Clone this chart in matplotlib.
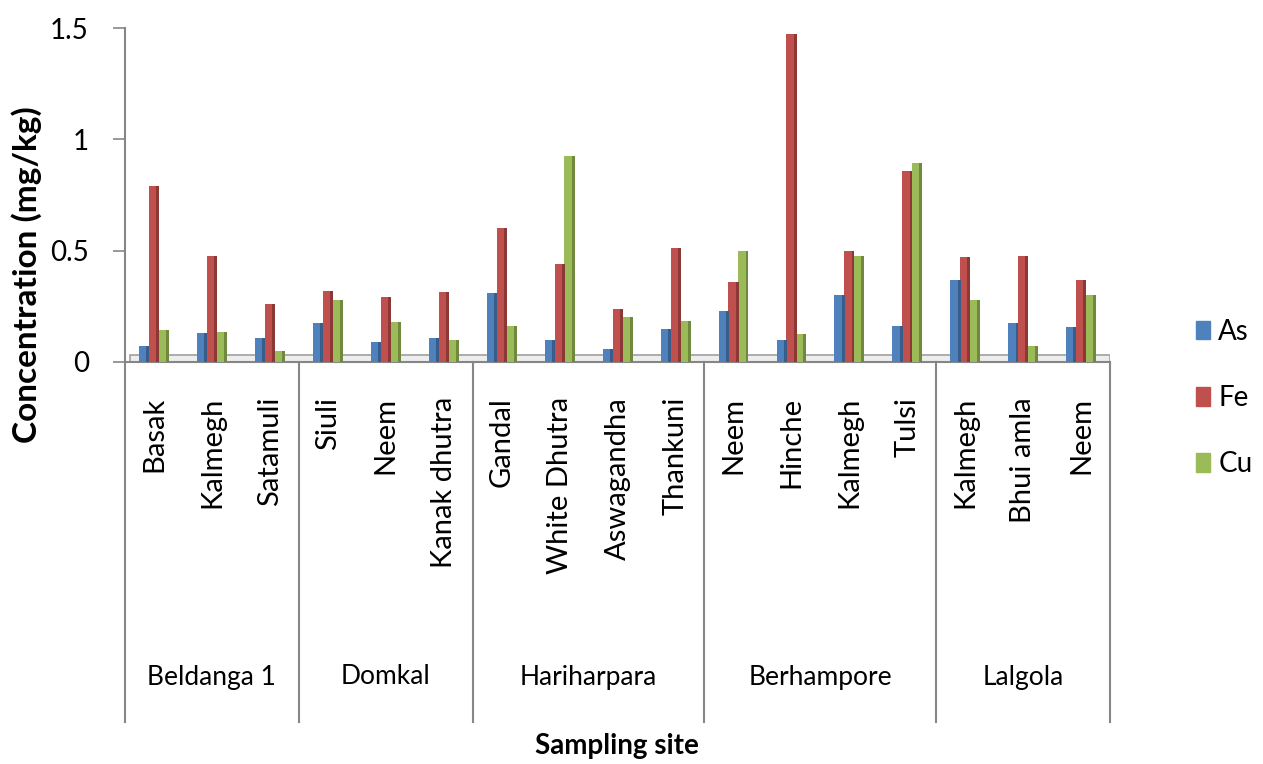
import matplotlib
matplotlib.use("Agg")
import matplotlib.pyplot as plt
import matplotlib.transforms as mtransforms
import numpy as np

plt.rcParams['font.family'] = ['Lato', 'DejaVu Sans']

plants = ["Basak", "Kalmegh", "Satamuli",
          "Siuli", "Neem", "Kanak dhutra",
          "Gandal", "White Dhutra", "Aswagandha", "Thankuni",
          "Neem", "Hinche", "Kalmegh", "Tulsi",
          "Kalmegh", "Bhui amla", "Neem"]
groups = ["Beldanga 1", "Domkal", "Hariharpara", "Berhampore", "Lalgola"]
group_sizes = [3, 3, 4, 4, 3]

As = [0.07, 0.13, 0.11, 0.175, 0.09, 0.11, 0.31, 0.10, 0.06, 0.15,
      0.23, 0.10, 0.30, 0.16, 0.37, 0.175, 0.155]
Fe = [0.79, 0.475, 0.26, 0.32, 0.29, 0.315, 0.60, 0.44, 0.24, 0.51,
      0.36, 1.475, 0.50, 0.86, 0.47, 0.475, 0.37]
Cu = [0.145, 0.135, 0.05, 0.28, 0.18, 0.10, 0.16, 0.925, 0.20, 0.185,
      0.50, 0.125, 0.475, 0.895, 0.28, 0.07, 0.30]

series = [("As", As, "#4F81BD", "#385D8A"),
          ("Fe", Fe, "#C0504D", "#8C3836"),
          ("Cu", Cu, "#9BBB59", "#71893F")]

W, H = 1263, 764
fig = plt.figure(figsize=(W / 100, H / 100), dpi=100)
ax = fig.add_axes([125 / W, 402 / H, 985 / W, 334 / H])

n = len(plants)
x = np.arange(n)
bw = 0.17
offsets = [-0.17, 0.0, 0.17]
for (name, vals, col, dark), off in zip(series, offsets):
    ax.bar(x + off, vals, width=bw, color=col, label=name, zorder=3,
           linewidth=0)
    # darker right side to mimic 3D columns
    ax.bar(x + off + bw / 2 - 0.02, vals, width=0.05, color=dark,
           zorder=4, linewidth=0)

ax.set_xlim(-0.5, n - 0.5)
ax.set_ylim(0, 1.5)
ax.set_yticks([0, 0.5, 1, 1.5])
ax.set_yticklabels(["0", "0.5", "1", "1.5"])
ax.tick_params(axis='y', direction='out', length=9, width=1.2,
               color='#868686', labelsize=20, pad=17)
ax.tick_params(axis='x', bottom=False, labelbottom=False)
for s in ['top', 'right']:
    ax.spines[s].set_visible(False)
for s in ['left', 'bottom']:
    ax.spines[s].set_color('#868686')
    ax.spines[s].set_linewidth(1.5)

# 3D floor band
ax.axhspan(0, 0.03, xmin=0.005, xmax=1.0, facecolor='#EDEDED',
           edgecolor='#A0A0A0', linewidth=1.2, zorder=2)

# category labels
trans = mtransforms.blended_transform_factory(ax.transData, fig.transFigure)
for i, lab in enumerate(plants):
    ax.text(i, 1 - 397 / H, lab, rotation=90, ha='center', va='top',
            fontsize=21, transform=trans, color='black')

# group labels and separators
edges = np.concatenate([[0], np.cumsum(group_sizes)]) - 0.5
for k, g in enumerate(groups):
    mid = (edges[k] + edges[k + 1]) / 2
    ax.text(mid, 1 - 677 / H, g, ha='center', va='center', fontsize=19,
            transform=trans)
for e in edges:
    ax.plot([e, e], [1 - 362 / H, 1 - 722 / H], transform=trans,
            color='#868686', linewidth=1.5, clip_on=False)

fig.text(27 / W, 1 - 275 / H, "Concentration (mg/kg)", rotation=90,
         ha='center', va='center', fontsize=24, fontweight='bold')
fig.text(617 / W, 1 - 746 / H, "Sampling site", ha='center', va='center',
         fontsize=20, fontweight='bold')

handles = [plt.Rectangle((0, 0), 1, 1, color=c) for _, _, c, _ in series]
fig.legend(handles, [s[0] for s in series], loc='center left',
           bbox_to_anchor=(1196 / W, 1 - 398 / H), frameon=False,
           fontsize=20, handlelength=0.5, handleheight=0.65,
           handletextpad=0.3, labelspacing=1.45, borderpad=0,
           borderaxespad=0)

fig.savefig("out.png", dpi=100)
